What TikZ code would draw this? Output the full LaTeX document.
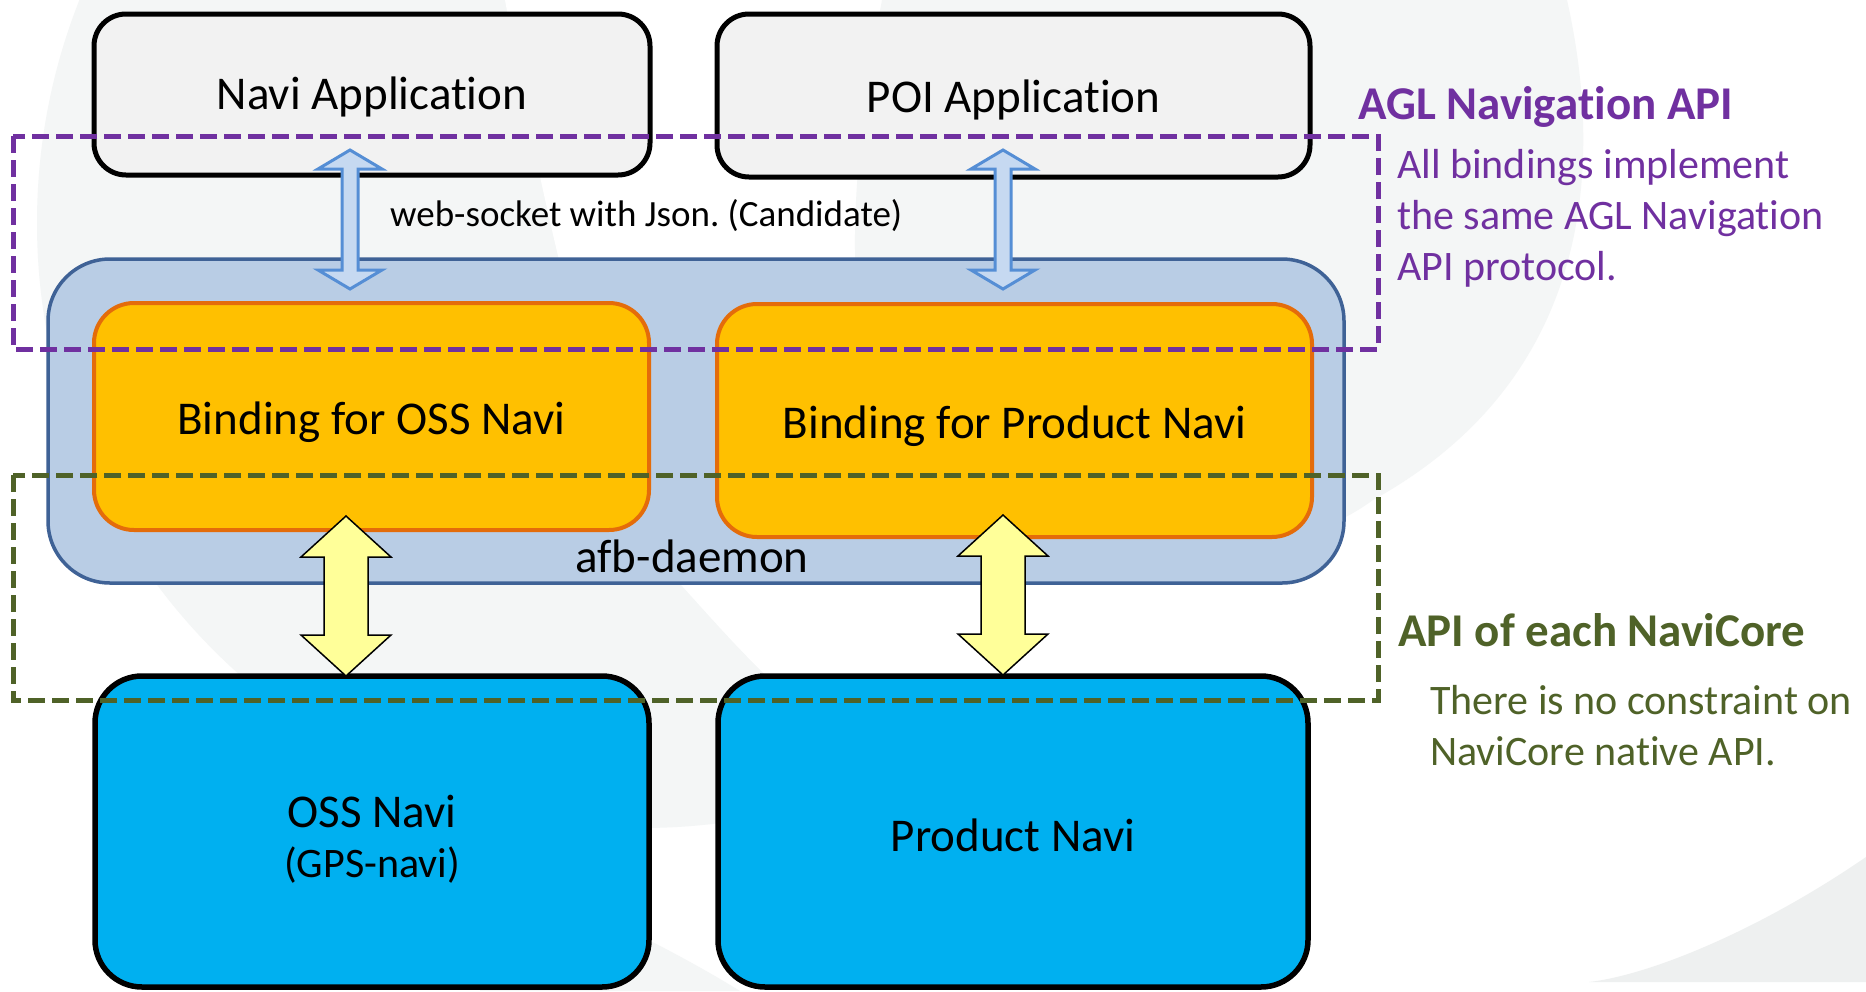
\documentclass[tikz,border=0pt]{standalone}
\usepackage{fontspec}
\setmainfont{Carlito}[Ligatures=NoCommon]
\usetikzlibrary{calc}
\definecolor{bggray}{HTML}{F4F6F6}
\definecolor{bgdark}{HTML}{EEF0F0}
\definecolor{appfill}{HTML}{F2F2F2}
\definecolor{afbfill}{HTML}{B9CDE5}
\definecolor{afbline}{HTML}{3F6296}
\definecolor{bindfill}{HTML}{FFC000}
\definecolor{bindline}{HTML}{E46C0A}
\definecolor{navifill}{HTML}{00B0F0}
\definecolor{aglpurple}{HTML}{7030A0}
\definecolor{coregreen}{HTML}{4F6228}
\definecolor{wsline}{HTML}{558ED5}
\definecolor{wsfill}{HTML}{C6D9F1}
\definecolor{ioyellow}{HTML}{FFFF99}
\newcommand{\fsbig}{\fontsize{47}{56}\selectfont}
\newcommand{\fsmid}{\fontsize{42}{51}\selectfont}
\newcommand{\fssmall}{\fontsize{37}{44}\selectfont}
% vertical block double arrow between two named coordinates (top, bottom)
\newcommand{\blockdbl}[6]{%
  \draw[#1] let \p1=(#2), \p2=(#3) in
    (\x1,\y1) -- (\x1+#4pt,\y1-#6pt) -- (\x1+#5pt,\y1-#6pt) -- (\x1+#5pt,\y2+#6pt)
    -- (\x1+#4pt,\y2+#6pt) -- (\x1,\y2) -- (\x1-#4pt,\y2+#6pt) -- (\x1-#5pt,\y2+#6pt)
    -- (\x1-#5pt,\y1-#6pt) -- (\x1-#4pt,\y1-#6pt) -- cycle;}
\tikzset{
  appbox/.style={draw=black, line width=5pt, fill=appfill, rounded corners=32pt,
    font=\fsbig, inner sep=0pt, text depth=0pt},
  afbbox/.style={draw=afbline, line width=3.5pt, fill=afbfill, rounded corners=62pt, inner sep=0pt},
  bindbox/.style={draw=bindline, line width=4pt, fill=bindfill, rounded corners=40pt,
    font=\fsbig, inner sep=0pt, text depth=0pt},
  navibox/.style={draw=black, line width=5.5pt, fill=navifill, rounded corners=47pt,
    font=\fsbig, inner sep=0pt, text depth=0pt},
  plaintext/.style={inner sep=0pt},
  wsarrow/.style={draw=wsline, fill=wsfill, line width=3pt, line join=miter},
  ioarrow/.style={draw=black, fill=ioyellow, line width=1.5pt, line join=miter},
  aglframe/.style={draw=aglpurple, line width=5pt, dash pattern=on 17pt off 7pt},
  coreframe/.style={draw=coregreen, line width=5pt, dash pattern=on 17pt off 7pt},
}
\begin{document}
\begin{tikzpicture}[x=1pt,y=-1pt]
\useasboundingbox (0,0) rectangle (1866,991);
\clip (0,0) rectangle (1866,991);
\fill[white] (0,0) rectangle (1866,991);
% faint background swooshes
\fill[bggray] (642,223) circle[radius=605];
\fill[white] (505,0) .. controls (560,300) and (620,520) .. (683,587)
  .. controls (740,650) and (800,720) .. (900,780) -- (1300,780) -- (1300,0) -- cycle;
\fill[bggray] (882,0) -- (1567,0) .. controls (1605,170) and (1590,380) .. (1373,500)
  .. controls (1250,590) and (1000,560) .. (905,450)
  .. controls (840,350) and (845,200) .. (882,0) -- cycle;
\fill[bggray] (480,870) .. controls (580,900) and (690,960) .. (740,991) -- (480,991) -- cycle;
\fill[bgdark] (1866,857) .. controls (1760,930) and (1650,975) .. (1589,982) -- (1866,982) -- cycle;

% boxes
\node[appbox, text height=29pt, minimum width=556, minimum height=161] (navi) at (372,94.5) {Navi Application};
\node[appbox, text height=33pt, minimum width=593, minimum height=163] (poi) at (1013.5,95.5) {POI Application};
\node[afbbox, minimum width=1296, minimum height=324] (afb) at (696,421) {};
\node[bindbox, text height=36pt, minimum width=555, minimum height=227] (bindoss) at (371.5,416.5) {Binding for OSS Navi};
\node[bindbox, text height=36pt, minimum width=595, minimum height=233] (bindprod) at (1014.5,420.5) {Binding for Product Navi};
\node[plaintext, font=\fsbig] (afbl) at (692,556) {afb-daemon};
\node[navibox, minimum width=554, minimum height=311] (oss) at (372,831.5) {};
\node[plaintext, align=center, font=\fontsize{47}{50}\selectfont] (osst) at ($(oss.center)+(0,8)$)
  {OSS Navi\\{\fsmid (GPS-navi)}};
\node[navibox, text height=39pt, minimum width=590, minimum height=311] (prod) at (1013,831.5) {Product Navi};

% connectors
\coordinate (ws1a) at (350,150); \coordinate (ws1b) at (350,289);
\coordinate (ws2a) at (1003,150); \coordinate (ws2b) at (1003,289);
\coordinate (io1a) at (346,516); \coordinate (io1b) at (346,676);
\coordinate (io2a) at (1003,515); \coordinate (io2b) at (1003,675);
\blockdbl{wsarrow}{ws1a}{ws1b}{32}{8}{19}
\blockdbl{wsarrow}{ws2a}{ws2b}{32}{8}{19}
\blockdbl{ioarrow}{io1a}{io1b}{45}{22}{41}
\blockdbl{ioarrow}{io2a}{io2b}{45}{22}{41}
\node[plaintext, font=\fssmall, anchor=base west] (wslabel) at (390,226) {web-socket with Json.\ (Candidate)};

% API frames
\draw[aglframe] (13,136) rectangle (1378,349);
\draw[coreframe] (13,475) rectangle (1378,700);

% right-hand notes
\node[plaintext, anchor=base west, text=aglpurple, font=\bfseries\fsbig] (aglt) at (1358,119.5) {AGL Navigation API};
\node[plaintext, anchor=base west, text=aglpurple, font=\fsmid] (agl1) at (1397,178.5) {All bindings implement};
\node[plaintext, anchor=base west, text=aglpurple, font=\fsmid] (agl2) at (1397,229) {the same AGL Navigation};
\node[plaintext, anchor=base west, text=aglpurple, font=\fsmid] (agl3) at (1397,280) {API protocol.};
\node[plaintext, anchor=base west, text=coregreen, font=\bfseries\fsbig] (coret) at (1398,646) {API of each NaviCore};
\node[plaintext, anchor=base west, text=coregreen, font=\fsmid] (core1) at (1430,714.5) {There is no constraint on};
\node[plaintext, anchor=base west, text=coregreen, font=\fsmid] (core2) at (1430,765) {NaviCore native API.};
\end{tikzpicture}
\end{document}
